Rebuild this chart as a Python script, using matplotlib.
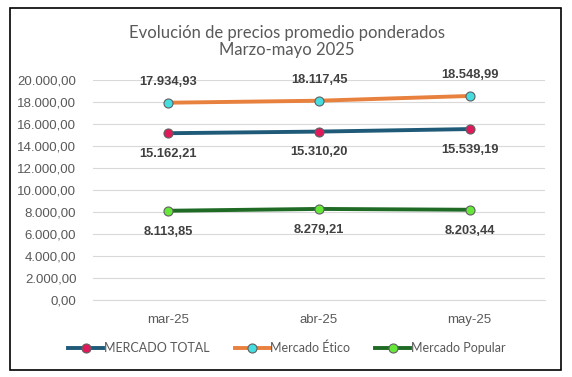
import matplotlib
matplotlib.use("Agg")
import matplotlib.pyplot as plt
from matplotlib.patches import Rectangle
from matplotlib.ticker import FuncFormatter

categories = ["mar-25", "abr-25", "may-25"]
total = [15162.21, 15310.20, 15539.19]
etico = [17934.93, 18117.45, 18548.99]
popular = [8113.85, 8279.21, 8203.44]
series_names = ["MERCADO TOTAL", "Mercado Ético", "Mercado Popular"]

def fmt(v):
    s = f"{v:,.2f}"
    return s.replace(",", "X").replace(".", ",").replace("X", ".")

NUMF = ["Liberation Sans", "DejaVu Sans"]
TXTF = ["Lato", "DejaVu Sans"]

W, H = 572, 377
fig = plt.figure(figsize=(W/100, H/100), dpi=100)
fig.patch.set_facecolor("white")
fig.add_artist(Rectangle((10/W, 1-370/H), (561-10)/W, (370-8)/H, transform=fig.transFigure,
                         fill=False, edgecolor="black", linewidth=1.2))

ax = fig.add_axes([93/W, 1-300/H, (545-93)/W, (300-80)/H])
ax.set_ylim(0, 20000)
ax.set_xlim(-0.5, 2.5)
x = range(len(categories))

styles = [
    (total, "#1F5A78", "#E0195A", "below"),
    (etico, "#E8803E", "#45DDE0", "above"),
    (popular, "#1F6B25", "#66E83A", "below"),
]
for (vals, lc, mc, pos), name in zip(styles, series_names):
    ax.plot(x, vals, color=lc, lw=2.8, marker="o", markersize=6.5, markerfacecolor=mc,
            markeredgecolor="#606060", markeredgewidth=0.8, label=name, zorder=3)
    for xi, v in zip(x, vals):
        dy = 15 if pos == "above" else -15
        ax.annotate(fmt(v), (xi, v), xytext=(0, dy), textcoords="offset points",
                    ha="center", va="center", fontsize=9.3, fontweight="bold", color="#404040",
                    family=NUMF)

ax.set_yticks(range(0, 20001, 2000))
ax.yaxis.set_major_formatter(FuncFormatter(lambda v, p: fmt(v)))
ax.set_xticks(list(x))
ax.set_xticklabels(categories)
ax.tick_params(axis="y", length=0, labelsize=9.5, labelcolor="#595959", pad=12)
ax.tick_params(axis="x", length=0, labelsize=9.5, labelcolor="#595959", pad=10)
for lab in ax.get_xticklabels() + ax.get_yticklabels():
    lab.set_family(NUMF)
ax.grid(axis="y", color="#D9D9D9", lw=0.8)
ax.set_axisbelow(True)
for s in ["top", "right", "left"]:
    ax.spines[s].set_visible(False)
ax.spines["bottom"].set_color("#D9D9D9")

fig.text(287/W, 1-33/H, "Evolución de precios promedio ponderados", ha="center", va="center",
         fontsize=12, color="#595959", family=TXTF)
fig.text(287/W, 1-50/H, "Marzo-mayo 2025", ha="center", va="center", fontsize=12,
         color="#595959", family=TXTF)

leg = fig.legend(loc="center", bbox_to_anchor=(287/W, 1-348/H), ncol=3, frameon=False,
                 prop={"family": TXTF, "size": 9}, handlelength=2.8, handletextpad=0.05,
                 columnspacing=2.0)
for t in leg.get_texts():
    t.set_color("#595959")

fig.savefig("out.png", dpi=100)
